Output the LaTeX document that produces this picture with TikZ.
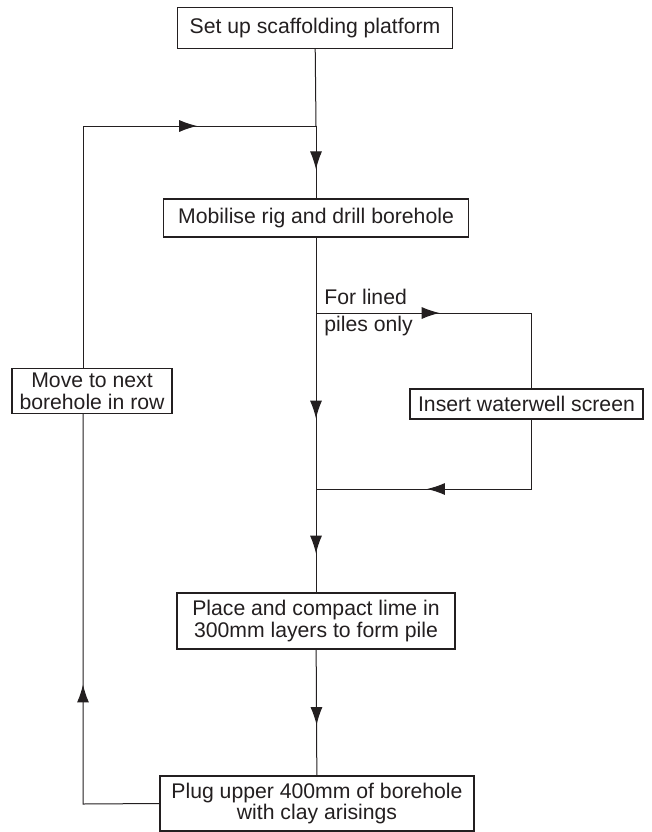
\documentclass[tikz,border=0pt]{standalone}
\usepackage{fontspec}
\setmainfont{Liberation Sans}
\usetikzlibrary{arrows.meta,positioning,calc,decorations.markings}
\definecolor{ink}{HTML}{231F20}
\tikzset{
  >=Latex,
  every node/.style={font=\fontsize{10.6}{10.9}\selectfont,text=ink},
  box/.style={draw=ink,line width=0.6pt,align=center,inner sep=2pt,fill=white},
  line/.style={draw=ink,line width=0.5pt},
  arrowat/.style={line,postaction={decorate},
    decoration={markings,mark=at position #1 with {\arrow{Latex[length=9pt,width=6pt]}}}},
  lbl/.style={align=left,inner sep=0pt},
}

\begin{document}
\begin{tikzpicture}[x=0.5pt,y=-0.5pt]
  \useasboundingbox (0,0) rectangle (652,832);

  \node[box,minimum width=137.5pt,minimum height=20.5pt] (scaffold) at (315,28) {Set up scaffolding platform};
  \node[box,minimum width=152.5pt,minimum height=19pt] (mobilise) at (316,218) {Mobilise rig and drill borehole};
  \node[box,minimum width=116.5pt,minimum height=15pt] (screen) at (526.5,404) {Insert waterwell screen};
  \node[box,minimum width=80pt,minimum height=19pt] (move) at (92,391) {Move to next\\borehole in row};
  \node[box,minimum width=139pt,minimum height=28pt] (place) at (316,621) {Place and compact lime in\\300mm layers to form pile};
  \node[box,minimum width=157pt,minimum height=27.5pt] (plug) at (317,803.5) {Plug upper 400mm of borehole\\with clay arisings};

  \coordinate (top) at (316,126);
  \coordinate (split) at (316,313);
  \coordinate (join) at (316,489);
  \coordinate (loopT) at (83,126);
  \coordinate (loopB) at (83,804);
  \coordinate (brT) at (531,313);
  \coordinate (brB) at (531,489);

  \node[lbl,anchor=west] (lined) at (324,313) {For lined\\[2.6pt]piles only};

  % main line
  \draw[line] (scaffold) -- (top);
  \draw[arrowat=0.6] (top) -- (mobilise);
  \draw[line] (mobilise) -- (split);
  \draw[arrowat=0.6] (split) -- (join);
  \draw[arrowat=0.625] (join) -- (place);
  \draw[arrowat=0.6] (place) -- (plug);

  % lined piles branch
  \draw[arrowat=0.426] (split) -- (brT) -- (screen.north -| brT);
  \draw[arrowat=0.61] (screen.south -| brB) -- (brB) -- (join);

  % return loop
  \draw[arrowat=0.42] (plug.west) -- (loopB) -- (move.south -| loopB);
  \draw[arrowat=0.75] (move.north -| loopT) -- (loopT) -- (top);
\end{tikzpicture}
\end{document}
